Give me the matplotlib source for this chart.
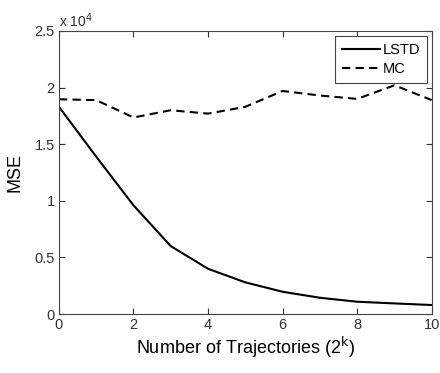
import numpy as np
import matplotlib
matplotlib.use("Agg")
import matplotlib.pyplot as plt
from matplotlib.ticker import FuncFormatter

plt.rcParams['font.family'] = ['Liberation Sans', 'DejaVu Sans']

# x = log2 of the number of trajectories
k_values = [0, 1, 2, 3, 4, 5, 6, 7, 8, 9, 10]

# Mean squared error for each estimator
lstd_mse = [18300, 13900, 9600, 6000, 4000, 2800, 1970, 1440, 1090, 940, 800]
mc_mse = [18970, 18890, 17360, 18000, 17700, 18300, 19700, 19300, 19000, 20200, 18900]

fig = plt.figure(figsize=(4.40, 3.73), dpi=100)
ax = fig.add_axes([0.134, 0.158, 0.847, 0.759])

ax.plot(k_values, lstd_mse, color="black", lw=1.5, label="LSTD")
ax.plot(k_values, mc_mse, color="black", lw=1.5, linestyle=(0, (4, 2.5)), label="MC")

ax.set_xlim(0, 10)
ax.set_ylim(0, 25000)
ax.set_xticks([0, 2, 4, 6, 8, 10])
ax.set_yticks([0, 5000, 10000, 15000, 20000, 25000])
ax.yaxis.set_major_formatter(FuncFormatter(lambda v, pos: f"{v / 1e4:g}"))

ax.tick_params(direction="in", top=True, right=True, length=4, width=0.8,
               labelsize=10.5, colors="#333333", pad=3)
for s in ax.spines.values():
    s.set_color("#444444")
    s.set_linewidth(0.8)

ax.text(0.0, 1.005, r"x 10$^{4}$", transform=ax.transAxes, fontsize=10,
        color="#333333", ha="left", va="bottom")

ax.set_xlabel(r"Number of Trajectories (2$^{\mathrm{k}}$)", fontsize=13, labelpad=2)
ax.set_ylabel("MSE", fontsize=13, labelpad=8)

leg = ax.legend(loc="upper right", fontsize=10.5, fancybox=False, framealpha=1,
                edgecolor="#444444", handlelength=2.6, handletextpad=0.2,
                borderpad=0.45, labelspacing=0.4, borderaxespad=0.35)
leg.get_frame().set_linewidth(0.8)

plt.savefig("out.png", dpi=100)
